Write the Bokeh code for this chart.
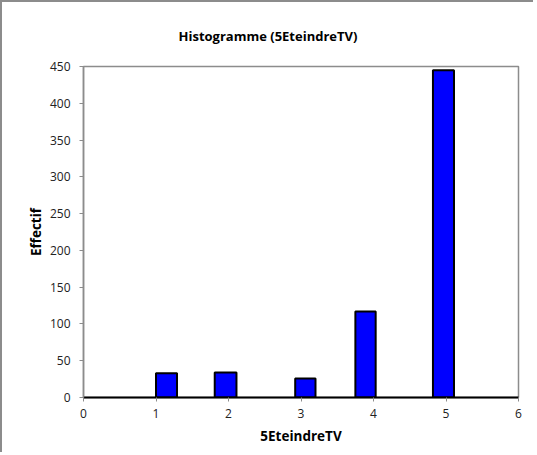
from bokeh.plotting import figure
from bokeh.models import FixedTicker, Range1d
from bokeh.embed import file_html
from bokeh.resources import INLINE

# Data
bin_left = [1.0, 1.81, 2.92, 3.75, 4.82]
bin_right = [1.29, 2.11, 3.2, 4.03, 5.11]
counts = [33, 34, 26, 117, 445]
x_ticks = [0, 1, 2, 3, 4, 5, 6]
y_ticks = [0, 50, 100, 150, 200, 250, 300, 350, 400, 450]
title_text = "Histogramme (5EteindreTV)"

FONT = "Open Sans"
GRAY = "#8c8c8c"

p = figure(width=533, height=452, output_backend="svg", toolbar_location=None,
           x_range=Range1d(0, 6), y_range=Range1d(0, 450),
           min_border_left=81, min_border_right=17, min_border_top=63, min_border_bottom=57)
p.styles = {"border-left": "2px solid #8c8c8c", "border-top": "2px solid #8c8c8c"}
p.xgrid.visible = False
p.ygrid.visible = False
p.outline_line_color = GRAY
p.outline_line_width = 1.5
p.background_fill_color = "white"
p.border_fill_color = "white"

p.title.text = title_text
p.title.align = "left"
p.title.offset = 95
p.title.standoff = 44
p.title.text_font = FONT
p.title.text_font_size = "13px"
p.title.text_font_style = "bold"
p.title.text_color = "black"

p.quad(left=bin_left, right=bin_right, bottom=0, top=counts,
       fill_color="#0000FF", line_color="black", line_width=2)

p.xaxis.ticker = FixedTicker(ticks=x_ticks)
p.yaxis.ticker = FixedTicker(ticks=y_ticks)
for ax in (p.xaxis, p.yaxis):
    ax.minor_tick_line_color = None
    ax.major_tick_in = 0
    ax.major_tick_out = 4
    ax.major_tick_line_color = GRAY
    ax.major_label_text_font = FONT
    ax.major_label_text_font_size = "12px"
    ax.major_label_text_color = "#222222"
    ax.axis_label_text_font = FONT
    ax.axis_label_text_font_size = "13.5px"
    ax.axis_label_text_font_style = "bold"
    ax.axis_label_text_color = "black"

p.xaxis.axis_line_color = "black"
p.xaxis.axis_line_width = 2
p.yaxis.axis_line_color = GRAY
p.yaxis.axis_line_width = 1.5
p.xaxis.axis_label = "5EteindreTV"
p.yaxis.axis_label = "Effectif"
p.xaxis.major_label_standoff = 7
p.yaxis.major_label_standoff = 9
p.xaxis.axis_label_standoff = 6
p.yaxis.axis_label_standoff = 2

open("out.html", "w").write(file_html(p, INLINE))
